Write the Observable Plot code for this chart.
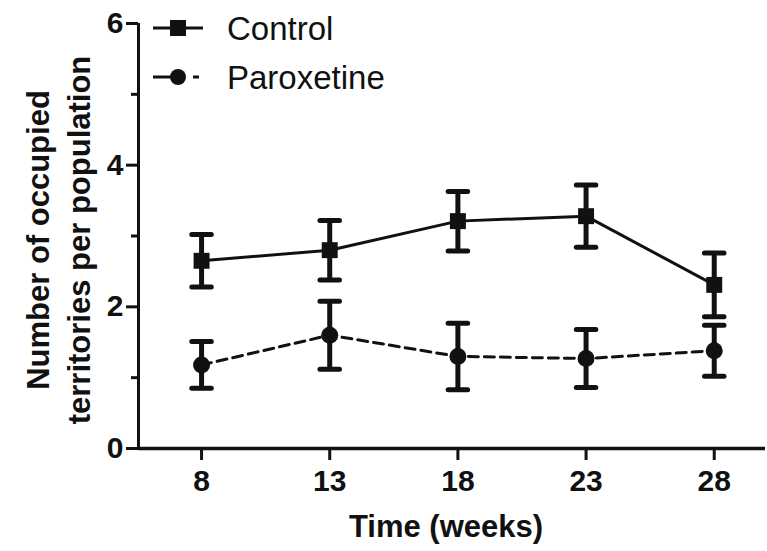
<!DOCTYPE html>
<html>
<head>
<meta charset="utf-8">
<script src="https://cdn.jsdelivr.net/npm/d3@7"></script>
<script src="https://cdn.jsdelivr.net/npm/@observablehq/plot@0.6"></script>
<style>
  html, body { margin: 0; padding: 0; background: #fff; }
  #wrap { position: relative; width: 767px; height: 551px; font-family: "Liberation Sans", Arial, sans-serif; }
  #legend { position: absolute; left: 0; top: 0; }
</style>
</head>
<body>
<div id="wrap"></div>
<script>
// ---- data ----
const weeks = [8, 13, 18, 23, 28];
const controlMean = [2.65, 2.80, 3.21, 3.28, 2.31];
const controlSem  = [0.37, 0.42, 0.42, 0.44, 0.45];
const paroxMean   = [1.18, 1.60, 1.30, 1.27, 1.38];
const paroxSem    = [0.33, 0.48, 0.47, 0.41, 0.36];
const seriesNames = ["Control", "Paroxetine"];
const yTicksMajor = [0, 2, 4, 6];
const yTicksMinor = [1, 3, 5];
const xDomain = [5.54, 30.0];
const yDomain = [0, 6];
const xLabel = "Time (weeks)";
const yLabel = "Number of occupied\nterritories per population";

const rows = [];
weeks.forEach((w, i) => {
  rows.push({series: seriesNames[0], week: w, mean: controlMean[i], sem: controlSem[i]});
  rows.push({series: seriesNames[1], week: w, mean: paroxMean[i], sem: paroxSem[i]});
});
const ctrl = rows.filter(d => d.series === "Control");
const parox = rows.filter(d => d.series === "Paroxetine");

const ink = "#111";
const capSymbol = {
  draw(context, size) {
    const w = Math.sqrt(size) / 2;
    context.moveTo(-w, 0);
    context.lineTo(w, 0);
  }
};
const fontBold = {fontFamily: "Liberation Sans, Arial, sans-serif", fontWeight: "bold"};

const chart = Plot.plot({
  width: 767,
  height: 551,
  marginLeft: 138,
  marginTop: 23,
  marginBottom: 103,
  marginRight: 2,
  style: {fontFamily: "Liberation Sans, Arial, sans-serif", color: ink, background: "white"},
  x: {type: "linear", domain: xDomain},
  y: {type: "linear", domain: yDomain},
  marks: [
    Plot.axisX(weeks, {tickSize: 12, tickPadding: 9, strokeWidth: 3, fontSize: 30, fontWeight: "bold", label: null, stroke: ink, fill: ink, tickFormat: d => String(d)}),
    Plot.axisY(yTicksMajor, {tickSize: 12, tickPadding: 3, strokeWidth: 3, fontSize: 30, fontWeight: "bold", label: null, stroke: ink, fill: ink, tickFormat: d => String(d)}),
    Plot.axisY(yTicksMinor, {tickSize: 7, strokeWidth: 3, tickFormat: () => "", label: null, stroke: ink}),
    Plot.ruleY([yDomain[0]], {stroke: ink, strokeWidth: 3.5}),
    Plot.ruleX([xDomain[0]], {stroke: ink, strokeWidth: 3}),
    // lines
    Plot.line(ctrl, {x: "week", y: "mean", stroke: ink, strokeWidth: 3}),
    Plot.line(parox, {x: "week", y: "mean", stroke: ink, strokeWidth: 3, strokeDasharray: "10,6"}),
    // error bars
    Plot.ruleX(rows, {x: "week", y1: d => d.mean - d.sem, y2: d => d.mean + d.sem, stroke: ink, strokeWidth: 5}),
    Plot.dot(rows, {x: "week", y: d => d.mean + d.sem, symbol: capSymbol, r: 11, stroke: ink, strokeWidth: 5, strokeLinecap: "round"}),
    Plot.dot(rows, {x: "week", y: d => d.mean - d.sem, symbol: capSymbol, r: 11, stroke: ink, strokeWidth: 5, strokeLinecap: "round"}),
    // markers
    Plot.dot(ctrl, {x: "week", y: "mean", symbol: "square", r: 9, fill: ink}),
    Plot.dot(parox, {x: "week", y: "mean", symbol: "circle", r: 8.5, fill: ink}),
    // axis titles
    Plot.text([xLabel], {text: d => d, frameAnchor: "bottom", textAnchor: "middle", lineAnchor: "top", dy: 66, dx: -6, fontSize: 31, ...fontBold, fill: ink}),
    Plot.text([yLabel], {text: d => d, frameAnchor: "left", textAnchor: "middle", lineAnchor: "middle", rotate: -90, dx: -82, dy: 4, lineHeight: 1.3, fontSize: 31, ...fontBold, fill: ink})
  ]
});

const wrap = document.getElementById("wrap");
wrap.appendChild(chart);

// legend overlay
const legend = d3.select(wrap).append("svg")
  .attr("id", "legend").attr("width", 420).attr("height", 110);
const lg = legend.append("g");
const items = [
  {name: seriesNames[0], y: 28, dash: null, shape: "square"},
  {name: seriesNames[1], y: 77, dash: "20,20,6,10", shape: "circle"}
];
items.forEach(it => {
  lg.append("line").attr("x1", 153).attr("x2", 203).attr("y1", it.y).attr("y2", it.y)
    .attr("stroke", ink).attr("stroke-width", 3).attr("stroke-dasharray", it.dash);
  if (it.shape === "square") {
    lg.append("rect").attr("x", 170).attr("y", it.y - 8).attr("width", 16).attr("height", 16).attr("fill", ink);
  } else {
    lg.append("circle").attr("cx", 178).attr("cy", it.y).attr("r", 8).attr("fill", ink);
  }
  lg.append("text").attr("x", 227).attr("y", it.y + 12).attr("font-size", 33)
    .attr("font-family", "Liberation Sans, Arial, sans-serif").attr("fill", ink).text(it.name);
});
</script>
</body>
</html>
